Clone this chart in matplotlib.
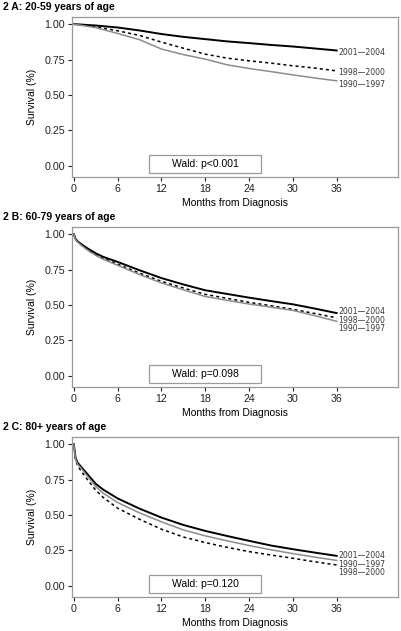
import matplotlib
matplotlib.use("Agg")
import matplotlib.pyplot as plt
from matplotlib.patches import Rectangle

plt.rcParams['font.family'] = ['Liberation Sans', 'DejaVu Sans']

# ---------------- data ----------------
months_A = [0, 3, 6, 9, 12, 15, 18, 21, 24, 27, 30, 33, 36]
A_2001 = [1.0, 0.99, 0.976, 0.955, 0.93, 0.91, 0.894, 0.878, 0.866, 0.853, 0.842, 0.828, 0.814]
A_1998 = [1.0, 0.98, 0.953, 0.92, 0.873, 0.83, 0.788, 0.76, 0.741, 0.725, 0.706, 0.69, 0.67]
A_1990 = [1.0, 0.975, 0.934, 0.89, 0.824, 0.785, 0.753, 0.713, 0.687, 0.665, 0.642, 0.62, 0.60]

months_BC = [0, 0.25, 0.5, 1, 2, 3, 4, 6, 9, 12, 15, 18, 21, 24, 27, 30, 33, 36]
B_2001 = [1.0, 0.965, 0.95, 0.93, 0.895, 0.865, 0.84, 0.804, 0.745, 0.69, 0.645, 0.604, 0.578, 0.552, 0.528, 0.505, 0.475, 0.443]
B_1998 = [1.0, 0.96, 0.945, 0.925, 0.885, 0.855, 0.83, 0.788, 0.725, 0.667, 0.62, 0.575, 0.547, 0.519, 0.495, 0.47, 0.44, 0.41]
B_1990 = [1.0, 0.96, 0.945, 0.922, 0.882, 0.85, 0.823, 0.78, 0.715, 0.656, 0.607, 0.56, 0.533, 0.507, 0.485, 0.462, 0.425, 0.385]

C_2001 = [1.0, 0.90, 0.87, 0.84, 0.78, 0.72, 0.68, 0.617, 0.545, 0.482, 0.43, 0.388, 0.352, 0.318, 0.285, 0.259, 0.235, 0.212]
C_1990 = [1.0, 0.89, 0.86, 0.83, 0.765, 0.70, 0.655, 0.588, 0.515, 0.452, 0.395, 0.353, 0.318, 0.285, 0.255, 0.228, 0.203, 0.18]
C_1998 = [1.0, 0.885, 0.85, 0.81, 0.74, 0.675, 0.625, 0.548, 0.47, 0.40, 0.345, 0.306, 0.272, 0.242, 0.218, 0.195, 0.17, 0.148]

period_labels = ["2001\u20142004", "1998\u20142000", "1990\u20141997"]
titles = ["2 A: 20-59 years of age", "2 B: 60-79 years of age", "2 C: 80+ years of age"]
wald_texts = ["Wald: p<0.001", "Wald: p=0.098", "Wald: p=0.120"]
x_ticks = [0, 6, 12, 18, 24, 30, 36]
y_ticks = [0.00, 0.25, 0.50, 0.75, 1.00]

panels = [
    (months_A, [A_2001, A_1998, A_1990], [0.80, 0.66, 0.574]),
    (months_BC, [B_2001, B_1998, B_1990], [0.452, 0.392, 0.332]),
    (months_BC, [C_2001, C_1998, C_1990], [0.214, 0.094, 0.154]),
]

styles = [
    dict(color="black", lw=1.4, ls="-"),
    dict(color="black", lw=1.1, ls=(0, (2.0, 2.0))),
    dict(color="#8c8c8c", lw=1.1, ls="-"),
]

W, H = 402, 631
fig = plt.figure(figsize=(W / 100, H / 100), dpi=100)

frame_col = "#9a9a9a"
ax_tops = [17, 227, 437]
for i, (months, series, lab_y) in enumerate(panels):
    top = ax_tops[i]
    bottom = top + 160
    ax = fig.add_axes([72 / W, 1 - bottom / H, 326 / W, 160 / H])
    for s, st, ly, lab in zip(series, styles, lab_y, period_labels):
        ax.plot(months, s, **st)
        ax.text(36.2, ly, lab, fontsize=5.6, color="#3a3a3a", va="center", ha="left",
                family="DejaVu Sans")
    ax.set_xlim(-0.25, 44.4)
    ax.set_ylim(-0.078, 1.05)
    ax.set_xticks(x_ticks)
    ax.set_yticks(y_ticks)
    ax.set_yticklabels([f"{v:.2f}" for v in y_ticks])
    ax.tick_params(axis="both", direction="out", length=3, width=0.8, colors="#222222",
                   labelsize=7.7, pad=2)
    for sp in ax.spines.values():
        sp.set_color(frame_col)
        sp.set_linewidth(0.9)
    ax.set_xlabel("Months from Diagnosis", fontsize=7.5, labelpad=3)
    ax.set_ylabel("Survival (%)", fontsize=7.5, labelpad=5)
    ax.add_patch(Rectangle((0.236, 0.025), 0.344, 0.1125, transform=ax.transAxes,
                           facecolor="white", edgecolor=frame_col, lw=0.9, zorder=5))
    ax.text(0.408, 0.081, wald_texts[i], transform=ax.transAxes, fontsize=7.5,
            ha="center", va="center", zorder=6)
    fig.text(3 / W, 1 - (top - 10) / H, titles[i], fontsize=7.5, fontweight="bold",
             ha="left", va="center")

fig.savefig("out.png", dpi=100)
